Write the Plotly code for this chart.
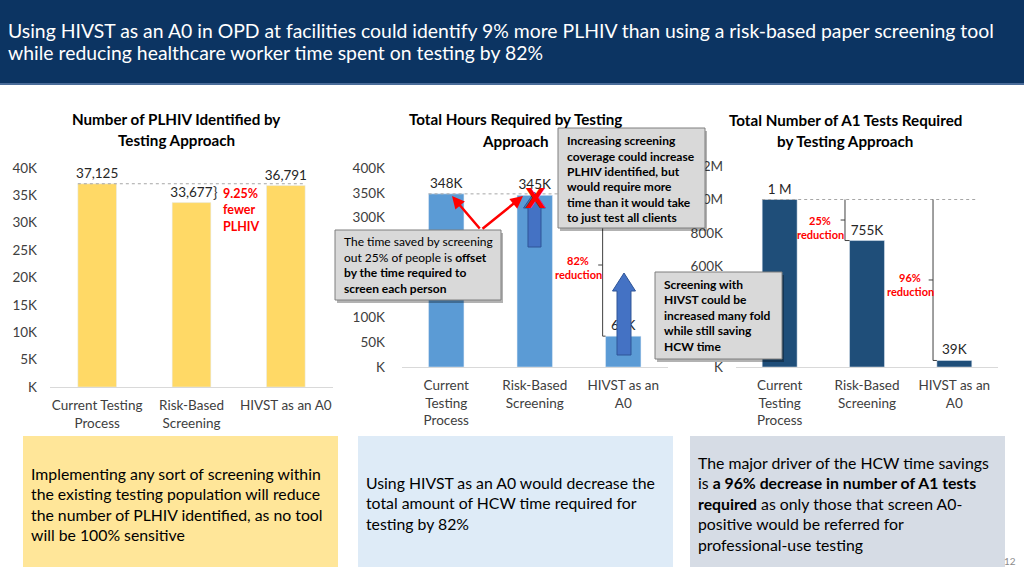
import plotly.graph_objects as go

W, H = 1024, 576
FONT = "Lato"

# ---------------- data ----------------
categories = ["Current Testing Process", "Risk-Based Screening", "HIVST as an A0"]
plhiv_identified = [37125, 33677, 36791]
hours_required = [348000, 345000, 62000]
a1_tests_required = [1000000, 755000, 39000]

cat_labels_left = ["Current Testing<br>Process", "Risk-Based<br>Screening", "HIVST as an A0"]
cat_labels_3line = ["Current<br>Testing<br>Process", "Risk-Based<br>Screening", "HIVST as an<br>A0"]

# tick labels (those fully hidden behind the call-out boxes in the reference are left out)
plhiv_ticks = [0, 5000, 10000, 15000, 20000, 25000, 30000, 35000, 40000]
plhiv_tick_text = ["K", "5K", "10K", "15K", "20K", "25K", "30K", "35K", "40K"]
hours_ticks = [0, 50000, 100000, 300000, 350000, 400000]
hours_tick_text = ["K", "50K", "100K", "300K", "350K", "400K"]
a1_ticks = [0, 600000, 800000, 1000000, 1200000]
a1_tick_text = ["K", "600K", "800K", "1.0M", "1.2M"]


def px(x):
    return x / W


def py(y):
    return 1 - y / H


def short_label(v):
    if v >= 1_000_000:
        return f"{v / 1_000_000:.0f} M"
    return f"{v / 1000:.0f}K"


fig = go.Figure()

YELLOW = "#FFD966"
MIDBLUE = "#5B9BD5"
DARKBLUE = "#1F4E79"
LABEL = "#404040"

fig.add_trace(go.Bar(x=categories, y=plhiv_identified, xaxis="x", yaxis="y",
                     marker_color=YELLOW, width=0.41,
                     text=[f"{v:,}" for v in plhiv_identified], textposition="outside",
                     constraintext="none", cliponaxis=False,
                     textfont=dict(size=13.5, color="#262626", family=FONT), hoverinfo="skip"))
fig.add_trace(go.Bar(x=categories, y=hours_required, xaxis="x2", yaxis="y2",
                     marker_color=MIDBLUE, width=0.40,
                     text=[short_label(v) for v in hours_required], textposition="outside",
                     constraintext="none", cliponaxis=False,
                     textfont=dict(size=13.5, color="#262626", family=FONT), hoverinfo="skip"))
fig.add_trace(go.Bar(x=categories, y=a1_tests_required, xaxis="x3", yaxis="y3",
                     marker_color=DARKBLUE, width=0.40,
                     text=[short_label(v) for v in a1_tests_required], textposition="outside",
                     constraintext="none", cliponaxis=False,
                     textfont=dict(size=13.5, color="#262626", family=FONT), hoverinfo="skip"))


def xax(dom, labels):
    return dict(domain=dom, type="category", categoryorder="array", categoryarray=categories,
                tickvals=categories, ticktext=labels, showline=True, linecolor="#D9D9D9",
                linewidth=1, ticks="", showgrid=False, zeroline=False, fixedrange=True,
                automargin=False,
                tickfont=dict(size=13.5, color=LABEL, family=FONT), ticklabelstandoff=6)


def yax(dom, rng, vals, text, standoff):
    return dict(domain=dom, range=rng, tickvals=vals, ticktext=text, showgrid=False,
                showline=False, zeroline=False, ticks="", fixedrange=True, automargin=False,
                tickfont=dict(size=13.5, color=LABEL, family=FONT), ticklabelstandoff=standoff)


fig.update_layout(
    width=W, height=H, margin=dict(l=0, r=0, t=0, b=0, pad=0, autoexpand=False),
    paper_bgcolor="white", plot_bgcolor="white", showlegend=False,
    font=dict(family=FONT),
    xaxis=dict(anchor="y", **xax([px(50), px(333)], cat_labels_left)),
    yaxis=dict(anchor="x", **yax([py(387), py(168)], [0, 40000], plhiv_ticks, plhiv_tick_text, 12)),
    xaxis2=dict(anchor="y2", **xax([px(402), px(668)], cat_labels_3line)),
    yaxis2=dict(anchor="x2", **yax([py(367), py(168)], [0, 400000], hours_ticks, hours_tick_text, 16)),
    xaxis3=dict(anchor="y3", **xax([px(736), px(998)], cat_labels_3line)),
    yaxis3=dict(anchor="x3", **yax([py(367), py(166)], [0, 1200000], a1_ticks, a1_tick_text, 12)),
)

shapes = []


def rect(x0, y0, x1, y1, fill, line=None, lw=0, layer="below"):
    shapes.append(dict(type="rect", xref="paper", yref="paper", x0=px(x0), x1=px(x1),
                       y0=py(y1), y1=py(y0), fillcolor=fill, layer=layer,
                       line=dict(color=line or fill, width=lw)))


def dline(xr, yr, x0, x1, y0, y1, color="#404040", width=1, dash="solid"):
    shapes.append(dict(type="line", xref=xr, yref=yr, x0=x0, x1=x1, y0=y0, y1=y1,
                       layer="above", line=dict(color=color, width=width, dash=dash)))


def up_arrow(cx, top, bottom, shaft_w, head_w, head_h):
    pts = [(cx, top), (cx + head_w / 2, top + head_h), (cx + shaft_w / 2, top + head_h),
           (cx + shaft_w / 2, bottom), (cx - shaft_w / 2, bottom), (cx - shaft_w / 2, top + head_h),
           (cx - head_w / 2, top + head_h)]
    path = "M " + " L ".join(f"{px(a):.5f},{py(b):.5f}" for a, b in pts) + " Z"
    shapes.append(dict(type="path", xref="paper", yref="paper", path=path, layer="above",
                       fillcolor="#4472C4", line=dict(color="#2F5597", width=1)))


# header
rect(0, 0, 1024, 84, "#0C3462")
rect(0, 83, 1024, 85, "#4A6C99")
# bottom boxes
rect(23, 436, 338, 567, "#FFE699")
rect(358, 436, 673, 567, "#DEEBF7")
rect(690, 436, 1005, 567, "#D6DCE5")

# chart 1 dashed reference line
dline("x", "y", -0.205, 2.205, plhiv_identified[0], plhiv_identified[0], color="#A6A6A6", dash="dot")
# chart 2 dashed + bracket
dline("x2", "y2", -0.2, 2.5, hours_required[0], hours_required[0], color="#A6A6A6", dash="dot")
bx2 = 1.767
mid2 = (hours_required[0] + hours_required[2]) / 2
dline("x2", "y2", bx2, bx2, hours_required[2], hours_required[0])
dline("x2", "y2", bx2, 1.8, hours_required[2], hours_required[2])
dline("x2", "y2", bx2 - 0.05, bx2, mid2, mid2)
# chart 3 dashed + brackets
dline("x3", "y3", -0.2, 2.27, a1_tests_required[0], a1_tests_required[0], color="#A6A6A6", dash="dot")
bx3a = 0.748
mid3a = (a1_tests_required[0] + a1_tests_required[1]) / 2
dline("x3", "y3", bx3a, bx3a, a1_tests_required[1], a1_tests_required[0])
dline("x3", "y3", bx3a, 0.8, a1_tests_required[1], a1_tests_required[1])
dline("x3", "y3", bx3a - 0.05, bx3a, mid3a, mid3a)
bx3b = 1.756
mid3b = (a1_tests_required[0] + a1_tests_required[2]) / 2
dline("x3", "y3", bx3b, bx3b, a1_tests_required[2], a1_tests_required[0])
dline("x3", "y3", bx3b, 1.8, a1_tests_required[2], a1_tests_required[2])
dline("x3", "y3", bx3b - 0.05, bx3b, mid3b, mid3b)

# blue block arrows
up_arrow(534.5, 192, 247, 13, 22, 16)
up_arrow(624, 273, 355, 14, 23, 18)

# grey callout boxes (shadow + box)
for (x0, y0, x1, y1) in [(335, 230, 501, 300), (558, 128, 705, 228), (655, 272, 782, 359)]:
    rect(x0 + 2, y0 + 3, x1 + 2, y1 + 3, "rgba(0,0,0,0.30)", layer="above")
    rect(x0, y0, x1, y1, "#D9D9D9", line="#7F7F7F", lw=1, layer="above")

fig.update_layout(shapes=shapes)


def lines(texts, x, y0, dy, size, color="#000000", anchor="left"):
    for i, t in enumerate(texts):
        fig.add_annotation(x=px(x), y=py(y0 + i * dy), xref="paper", yref="paper", text=t,
                           showarrow=False, xanchor=anchor, yanchor="middle",
                           font=dict(size=size, color=color, family=FONT))


# main title
lines(["Using HIVST as an A0 in OPD at facilities could identify 9% more PLHIV than using a risk-based paper screening tool",
       "while reducing healthcare worker time spent on testing by 82%"], 6, 30, 23, 19.4, color="white")

# chart titles
lines(["<b>Number of PLHIV Identified by</b>", "<b>Testing Approach</b>"], 176, 119, 21, 15.2, anchor="center")
lines(["<b>Total Hours Required by Testing</b>", "<b>Approach</b>"], 515, 119, 21.5, 15.2, anchor="center")
lines(["<b>Total Number of A1 Tests Required</b>", "<b>by Testing Approach</b>"], 845, 119.5, 21, 15.2, anchor="center")

# chart 1 difference note
lines(["}"], 215, 192, 0, 15, color=LABEL, anchor="center")
lines(["<b>9.25%</b>", "<b>fewer</b>", "<b>PLHIV</b>"], 221, 193, 16.5, 12.5, color="#FF0000")

# red reduction labels
lines(["<b>82%</b>", "<b>reduction</b>"], 578, 260, 14.5, 11, color="#FF0000", anchor="center")
lines(["<b>25%</b>", "<b>reduction</b>"], 820, 220, 14.5, 11, color="#FF0000", anchor="center")
lines(["<b>96%</b>", "<b>reduction</b>"], 910, 277, 14.5, 11, color="#FF0000", anchor="center")

# red arrows from callout A
for hx, hy in [(452, 196), (523, 196)]:
    fig.add_annotation(x=px(hx), y=py(hy), xref="paper", yref="paper", text="",
                       showarrow=True, ax=481 - hx, ay=230 - hy, arrowhead=2, arrowsize=1,
                       arrowwidth=2.5, arrowcolor="#FF0000")
# red X
fig.add_annotation(x=px(535), y=py(198), xref="paper", yref="paper", text="<b>X</b>",
                   showarrow=False, font=dict(size=27, color="#FF0000", family="DejaVu Sans"))

# callout texts
lines(["The time saved by screening", "out 25% of people is <b>offset</b>",
       "<b>by the time required to</b>", "<b>screen each person</b>"], 342, 242, 15.4, 12)
lines(["<b>Increasing screening</b>", "<b>coverage could increase</b>", "<b>PLHIV identified, but</b>",
       "<b>would require more</b>", "<b>time than it would take</b>", "<b>to just test all clients</b>"],
      565, 141, 15.3, 12)
lines(["<b>Screening with</b>", "<b>HIVST could be</b>", "<b>increased many fold</b>",
       "<b>while still saving</b>", "<b>HCW time</b>"], 662, 284, 15.5, 12)

# bottom box texts
lines(["Implementing any sort of screening within", "the existing testing population will reduce",
       "the number of PLHIV identified, as no tool", "will be 100% sensitive"], 29, 473, 20.5, 15.8)
lines(["Using HIVST as an A0 would decrease the", "total amount of HCW time required for",
       "testing by 82%"], 364, 482, 20.5, 15.8)
lines(["The major driver of the HCW time savings", "is <b>a 96% decrease in number of A1 tests</b>",
       "<b>required</b> as only those that screen A0-", "positive would be referred for",
       "professional-use testing"], 696, 462, 20.5, 15.8)

# page number
lines(["12"], 1010, 561, 0, 10, color="#8C8C8C", anchor="center")

fig.write_html("out.html", config={"displayModeBar": False},
               post_script="document.body.style.margin='0';document.body.style.padding='0';"
                           "document.documentElement.style.overflow='hidden';")
